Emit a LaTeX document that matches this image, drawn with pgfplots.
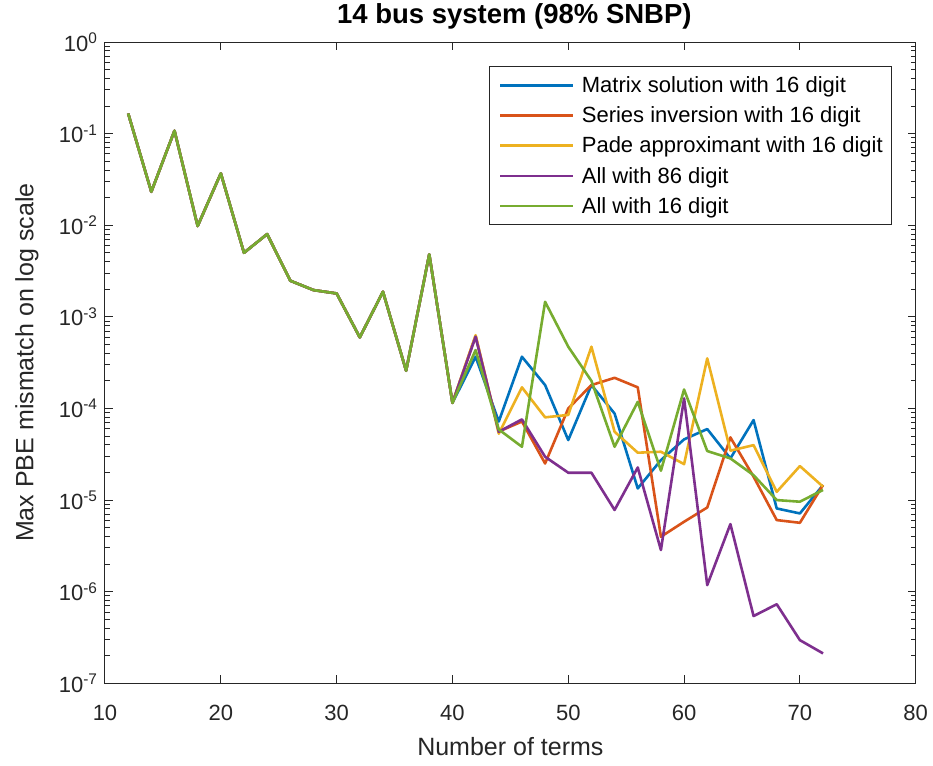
\documentclass[border=0pt]{standalone}
\usepackage{pgfplots}
\usepackage{pgfplotstable}
\pgfplotsset{compat=1.18}
\usepackage{fontspec}
\setmainfont{Liberation Sans}

\definecolor{mblue}{rgb}{0,0.447,0.741}
\definecolor{morange}{rgb}{0.850,0.325,0.098}
\definecolor{myellow}{rgb}{0.929,0.694,0.125}
\definecolor{mpurple}{rgb}{0.494,0.184,0.556}
\definecolor{mgreen}{rgb}{0.466,0.674,0.188}
\definecolor{axgray}{rgb}{0.15,0.15,0.15}

% Max PBE mismatch against number of terms
\pgfplotstableread{
n   matrix    series    pade      all86     all16
12  0.166     0.166     0.166     0.166     0.166
14  0.0232    0.0232    0.0232    0.0232    0.0232
16  0.1076    0.1076    0.1076    0.1076    0.1076
18  0.0098    0.0098    0.0098    0.0098    0.0098
20  0.0368    0.0368    0.0368    0.0368    0.0368
22  0.0050    0.0050    0.0050    0.0050    0.0050
24  0.0080    0.0080    0.0080    0.0080    0.0080
26  0.00248   0.00248   0.00248   0.00248   0.00248
28  0.00196   0.00196   0.00196   0.00196   0.00196
30  0.00180   0.00180   0.00180   0.00180   0.00180
32  0.000597  0.000597  0.000597  0.000597  0.000597
34  0.00188   0.00188   0.00188   0.00188   0.00188
36  0.000258  0.000258  0.000258  0.000258  0.000258
38  0.00481   0.00481   0.00481   0.00481   0.00481
40  0.000115  0.000115  0.000115  0.000115  0.000115
42  3.67e-4   6.2e-4    6.3e-4    6.07e-4   4.34e-4
44  7.2e-5    5.6e-5    5.3e-5    5.57e-5   5.9e-5
46  3.67e-4   7.2e-5    1.70e-4   7.6e-5    3.82e-5
48  1.80e-4   2.51e-5   8.0e-5    2.97e-5   1.46e-3
50  4.52e-5   1.0e-4    8.5e-5    1.99e-5   4.72e-4
52  1.80e-4   1.80e-4   4.72e-4   1.99e-5   2.0e-4
54  8.8e-5    2.16e-4   5.57e-5   7.8e-6    3.82e-5
56  1.34e-5   1.70e-4   3.29e-5   2.27e-5   1.18e-4
58  2.73e-5   3.98e-6   3.37e-5   2.85e-6   2.09e-5
60  4.6e-5    5.8e-6    2.47e-5   1.29e-4   1.61e-4
62  5.96e-5   8.3e-6    3.52e-4   1.18e-6   3.43e-5
64  2.85e-5   4.83e-5   3.46e-5   5.47e-6   2.85e-5
66  7.47e-5   1.8e-5    3.98e-5   5.42e-7   1.87e-5
68  8.1e-6    6.05e-6   1.23e-5   7.3e-7    1.0e-5
70  7.15e-6   5.65e-6   2.35e-5   2.96e-7   9.6e-6
72  1.46e-5   1.46e-5   1.40e-5   2.12e-7   1.29e-5
}\pbedata

\begin{document}
\begin{tikzpicture}
\path[use as bounding box] (-105pt,-81.7pt) rectangle (828pt,683.3pt);
\begin{axis}[
  at={(0pt,0pt)}, anchor=south west,
  scale only axis,
  width=810.7pt, height=641.3pt,
  xmin=10, xmax=80,
  ymode=log, ymin=1e-7, ymax=1,
  xtick={10,20,...,80},
  ytick={1e-7,1e-6,1e-5,1e-4,1e-3,1e-2,1e-1,1},
  yticklabels={10\textsuperscript{-7},10\textsuperscript{-6},10\textsuperscript{-5},10\textsuperscript{-4},10\textsuperscript{-3},10\textsuperscript{-2},10\textsuperscript{-1},10\textsuperscript{0}},
  minor ytick={2e-7,3e-7,4e-7,5e-7,6e-7,7e-7,8e-7,9e-7,
               2e-6,3e-6,4e-6,5e-6,6e-6,7e-6,8e-6,9e-6,
               2e-5,3e-5,4e-5,5e-5,6e-5,7e-5,8e-5,9e-5,
               2e-4,3e-4,4e-4,5e-4,6e-4,7e-4,8e-4,9e-4,
               2e-3,3e-3,4e-3,5e-3,6e-3,7e-3,8e-3,9e-3,
               2e-2,3e-2,4e-2,5e-2,6e-2,7e-2,8e-2,9e-2,
               0.2,0.3,0.4,0.5,0.6,0.7,0.8,0.9},
  /pgf/number format/assume math mode=true,
  tick align=inside,
  major tick length=8pt,
  minor tick length=5pt,
  axis line style={color=axgray, line width=1pt},
  every tick/.style={color=axgray, line width=1pt},
  ticklabel style={font=\fontsize{22}{26}\selectfont, color=axgray},
  xticklabel style={anchor=base, yshift=-36.7pt},
  yticklabel style={anchor=east, xshift=-4pt},
  title={14 bus system (98\% SNBP)},
  title style={font=\bfseries\fontsize{27.5}{32}\selectfont, at={(axis description cs:0.5,1)}, anchor=base, yshift=12.7pt, xshift=4pt},
  xlabel={Number of terms},
  xlabel style={font=\fontsize{25}{30}\selectfont, color=axgray, at={(axis description cs:0.5,0)}, anchor=base, yshift=-71.7pt},
  ylabel={Max PBE mismatch on log scale},
  ylabel style={font=\fontsize{25}{30}\selectfont, color=axgray, at={(axis description cs:0,0.5)}, anchor=base, yshift=71.7pt},
  legend style={at={(0.971,0.9626)}, anchor=north east,
    draw=axgray, line width=1pt, fill=white,
    font=\fontsize{22}{26}\selectfont,
    nodes={inner sep=0pt},
    inner xsep=9pt, inner ysep=10pt, row sep=12.8pt, column sep=7.4pt,
    cells={anchor=west}},
  legend image code/.code={\draw[#1, line width=2.6pt] (0pt,0pt) -- (73pt,0pt);},
  every axis plot/.append style={line width=2.6pt, line join=round},
]
\addplot[mblue] table[x=n, y=matrix] {\pbedata};
\addlegendentry{Matrix solution with 16 digit}
\addplot[morange] table[x=n, y=series] {\pbedata};
\addlegendentry{Series inversion with 16 digit}
\addplot[myellow] table[x=n, y=pade] {\pbedata};
\addlegendentry{Pade approximant with 16 digit}
\addplot[mpurple] table[x=n, y=all86] {\pbedata};
\addlegendentry{All with 86 digit}
\addplot[mgreen] table[x=n, y=all16] {\pbedata};
\addlegendentry{All with 16 digit}
\end{axis}
\end{tikzpicture}
\end{document}
